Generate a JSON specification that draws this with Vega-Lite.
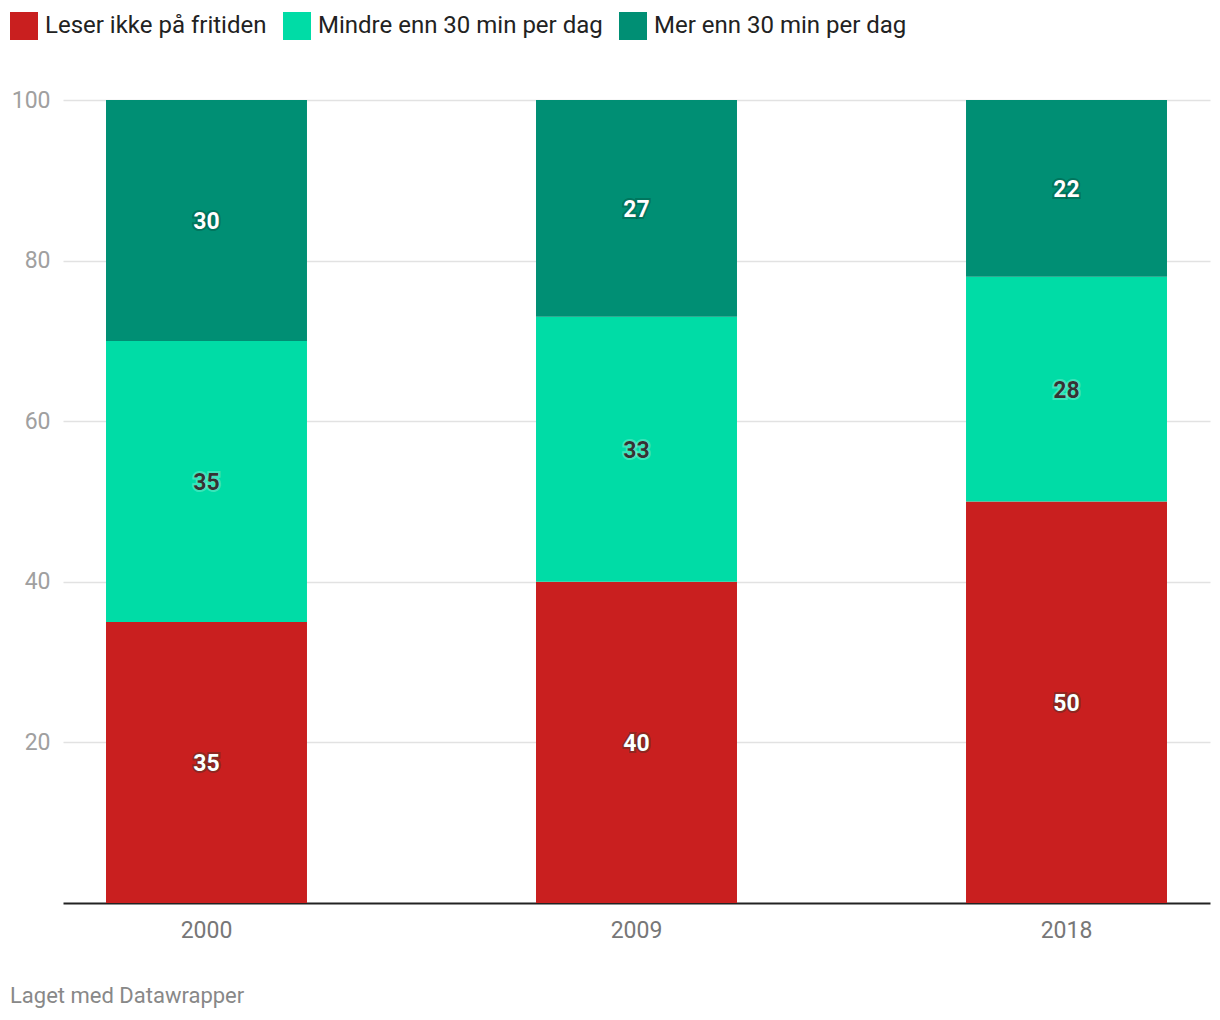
{
  "$schema": "https://vega.github.io/schema/vega-lite/v6.json",
  "width": 1147,
  "height": 803,
  "autosize": {"type": "none"},
  "padding": {"left": 63, "top": 100, "right": 10, "bottom": 117},
  "config": {"font": "Roboto", "view": {"stroke": null}},
  "title": {
    "text": "Laget med Datawrapper",
    "orient": "bottom",
    "anchor": "start",
    "frame": "group",
    "dx": -53,
    "offset": 44,
    "fontSize": 22,
    "fontWeight": "normal",
    "color": "#888888"
  },
  "data": {
    "values": [
      {"år": "2000", "serie": "Leser ikke på fritiden", "nr": 1, "verdi": 35},
      {"år": "2000", "serie": "Mindre enn 30 min per dag", "nr": 2, "verdi": 35},
      {"år": "2000", "serie": "Mer enn 30 min per dag", "nr": 3, "verdi": 30},
      {"år": "2009", "serie": "Leser ikke på fritiden", "nr": 1, "verdi": 40},
      {"år": "2009", "serie": "Mindre enn 30 min per dag", "nr": 2, "verdi": 33},
      {"år": "2009", "serie": "Mer enn 30 min per dag", "nr": 3, "verdi": 27},
      {"år": "2018", "serie": "Leser ikke på fritiden", "nr": 1, "verdi": 50},
      {"år": "2018", "serie": "Mindre enn 30 min per dag", "nr": 2, "verdi": 28},
      {"år": "2018", "serie": "Mer enn 30 min per dag", "nr": 3, "verdi": 22}
    ]
  },
  "encoding": {
    "x": {
      "field": "år",
      "type": "ordinal",
      "scale": {"paddingInner": 0.5326, "paddingOuter": 0.1},
      "axis": {
        "title": null,
        "labelAngle": 0,
        "ticks": false,
        "domainColor": "#222222",
        "domainWidth": 2,
        "labelColor": "#777777",
        "labelFontSize": 23,
        "labelPadding": 16
      }
    },
    "order": {"field": "nr", "type": "quantitative"}
  },
  "layer": [
    {
      "mark": {"type": "bar"},
      "encoding": {
        "y": {
          "field": "verdi",
          "type": "quantitative",
          "stack": "zero",
          "scale": {"domain": [0, 100], "nice": false},
          "axis": {
            "title": null,
            "values": [20, 40, 60, 80, 100],
            "domain": false,
            "ticks": false,
            "labelColor": "#a0a0a0",
            "labelFontSize": 23,
            "labelPadding": 13,
            "gridColor": "#e2e2e2",
            "gridWidth": 1.5
          }
        },
        "color": {
          "field": "serie",
          "type": "nominal",
          "scale": {
            "domain": ["Leser ikke på fritiden", "Mindre enn 30 min per dag", "Mer enn 30 min per dag"],
            "range": ["#c91f1f", "#00dca6", "#008f74"]
          },
          "legend": {
            "title": null,
            "orient": "none",
            "legendX": -53,
            "legendY": -88,
            "direction": "horizontal",
            "symbolType": "square",
            "symbolSize": 784,
            "symbolStrokeWidth": 0,
            "symbolOpacity": 1,
            "labelFontSize": 24,
            "labelColor": "#222222",
            "labelOffset": 7,
            "columnPadding": 16,
            "labelLimit": 400
          }
        }
      }
    },
    {
      "mark": {"type": "text", "fontSize": 23, "fontWeight": "bold", "strokeWidth": 4, "strokeOpacity": 0.3, "align": "center", "baseline": "middle", "dy": 2},
      "encoding": {
        "y": {"field": "verdi", "type": "quantitative", "stack": "zero", "bandPosition": 0.5},
        "text": {"field": "verdi", "type": "quantitative"},
        "color": {
          "condition": {"test": "datum.serie === 'Mindre enn 30 min per dag'", "value": "#c8fff0"},
          "value": "#003828"
        },
        "stroke": {
          "condition": {"test": "datum.serie === 'Mindre enn 30 min per dag'", "value": "#c8fff0"},
          "value": "#003828"
        }
      }
    },
    {
      "mark": {"type": "text", "fontSize": 23, "fontWeight": "bold", "align": "center", "baseline": "middle", "dy": 2},
      "encoding": {
        "y": {"field": "verdi", "type": "quantitative", "stack": "zero", "bandPosition": 0.5},
        "text": {"field": "verdi", "type": "quantitative"},
        "color": {
          "condition": {"test": "datum.serie === 'Mindre enn 30 min per dag'", "value": "#333333"},
          "value": "#ffffff"
        }
      }
    }
  ]
}
